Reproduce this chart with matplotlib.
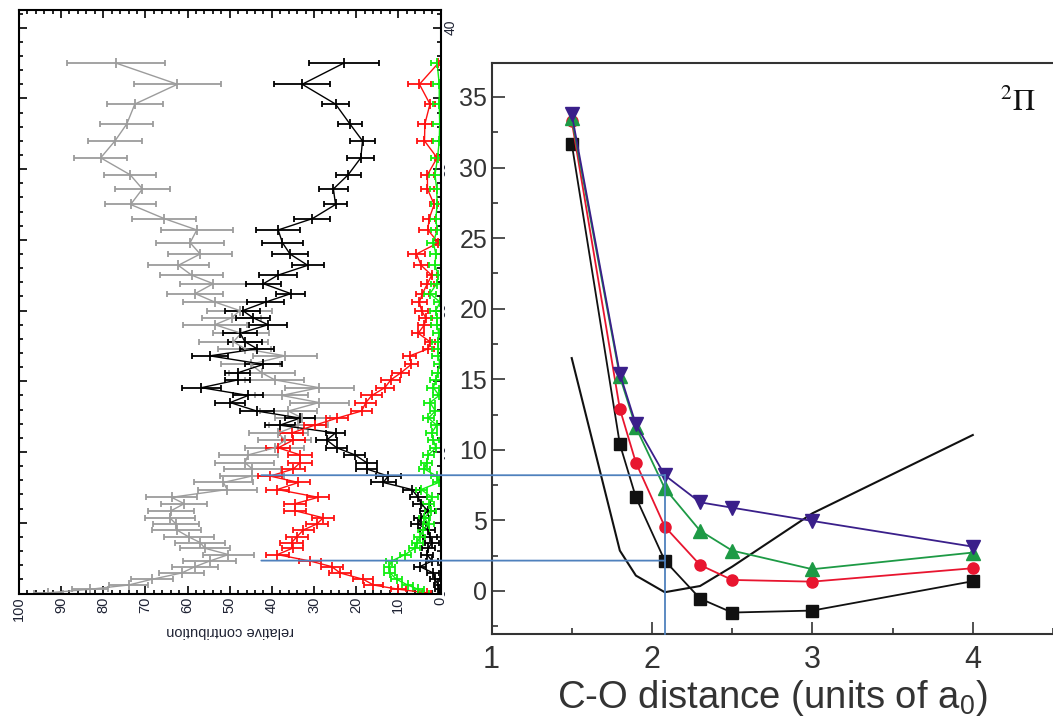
import matplotlib
matplotlib.use("Agg")
import matplotlib.pyplot as plt
from matplotlib.patches import Rectangle, ConnectionPatch
from matplotlib.ticker import MultipleLocator, FuncFormatter
from matplotlib.transforms import blended_transform_factory

plt.rcParams['font.family'] = ['Liberation Sans', 'DejaVu Sans']
plt.rcParams['mathtext.fontset'] = 'custom'
plt.rcParams['mathtext.rm'] = 'Liberation Sans'
plt.rcParams['mathtext.it'] = 'Liberation Sans:italic'

# ---- left panel: relative contributions vs. energy --------------------
energy = [37.5, 36.0, 34.6, 33.2, 32.0, 30.8, 29.6, 28.6, 27.5, 26.5,
          25.7, 24.8, 24.0, 23.2, 22.5, 21.9, 21.2, 20.6, 20.0, 19.5,
          19.0, 18.4, 17.8, 17.3, 16.8, 16.2, 15.6, 15.1, 14.55, 14.0,
          13.5, 12.9, 12.4, 11.9, 11.35, 10.85, 10.3, 9.8, 9.25, 8.8,
          8.3, 7.85, 7.35, 6.8, 6.35, 5.85, 5.35, 4.9, 4.5, 4.0,
          3.6, 3.2, 2.75, 2.3, 1.9, 1.45, 1.0, 0.6, 0.3, 0.05]

gray_val = [77.0, 62.4, 72.5, 74.4, 77.2, 80.6, 73.6, 70.7, 73.5, 65.5,
            57.8, 59.4, 57.0, 62.2, 59.0, 53.9, 58.2, 53.5, 47.6, 49.5,
            53.5, 47.3, 49.1, 46.4, 36.9, 45.0, 42.4, 39.3, 28.8, 37.7,
            28.8, 36.1, 32.8, 33.7, 38.5, 36.9, 39.3, 45.6, 46.4, 44.6,
            44.8, 51.5, 50.6, 63.8, 60.8, 63.9, 64.2, 62.7, 62.6, 59.7,
            57.0, 55.9, 50.3, 54.7, 58.2, 61.4, 68.5, 74.0, 83.1, 93.0]
gray_err = [11.7, 10.3, 6.6, 6.3, 6.3, 6.3, 6.2, 6.5, 6.0, 7.6,
            8.5, 8.1, 7.6, 7.2, 7.5, 7.8, 6.7, 7.6, 7.7, 7.0,
            7.6, 6.6, 8.3, 6.3, 7.5, 7.0, 7.8, 7.0, 8.2, 6.3,
            7.0, 6.7, 6.5, 7.0, 7.0, 6.3, 7.0, 7.0, 7.0, 6.7,
            7.6, 7.0, 7.0, 6.0, 5.5, 5.5, 5.9, 5.5, 5.8, 6.0,
            6.0, 6.0, 6.0, 6.3, 5.5, 5.3, 5.0, 4.7, 4.2, 3.5]

black_val = [22.9, 32.8, 24.9, 21.5, 18.5, 18.9, 21.9, 25.4, 24.9, 30.4,
             38.5, 37.5, 35.7, 31.5, 38.6, 42.0, 35.5, 41.5, 46.9, 44.5,
             40.9, 47.5, 46.4, 43.5, 54.7, 42.0, 48.1, 48.1, 56.7, 45.6,
             49.9, 43.6, 33.3, 38.1, 24.9, 27.0, 24.6, 20.3, 17.5, 17.5,
             12.4, 13.6, 6.8, 5.3, 4.6, 3.0, 4.6, 5.3, 3.0, 2.5,
             2.0, 2.9, 3.2, 2.0, 4.9, 1.7, 1.3, 0.5, 0.4, 0.2]
black_err = [8.3, 6.7, 3.3, 2.9, 3.0, 3.2, 3.0, 3.4, 2.8, 4.3,
             5.2, 4.8, 4.2, 3.8, 4.5, 4.2, 3.4, 4.4, 4.2, 4.0,
             4.5, 4.0, 4.0, 4.0, 4.2, 4.3, 3.0, 3.0, 4.6, 3.5,
             3.5, 4.0, 3.5, 3.5, 2.2, 2.5, 2.5, 2.5, 2.5, 2.5,
             3.0, 3.0, 2.0, 2.0, 2.0, 1.8, 1.8, 1.8, 1.8, 1.6,
             1.6, 1.6, 1.5, 1.5, 1.5, 1.4, 1.2, 1.0, 0.8, 0.5]

red_val = [0.5, 5.0, 2.5, 3.7, 3.8, 0.8, 3.1, 3.1, 1.5, 2.7,
           3.0, 0.5, 5.7, 4.6, 2.1, 3.1, 4.3, 5.0, 4.5, 3.5,
           3.8, 5.3, 2.5, 2.9, 7.3, 6.9, 9.4, 11.8, 13.2, 16.3,
           17.7, 18.7, 24.5, 29.8, 35.3, 34.9, 38.5, 33.3, 33.3, 34.9,
           40.4, 33.7, 38.7, 29.0, 34.5, 34.5, 27.8, 29.4, 32.5, 34.1,
           35.3, 35.1, 38.7, 31.0, 25.8, 23.8, 18.3, 15.9, 10.0, 3.3]
red_err = [0.4, 2.8, 1.2, 1.7, 1.7, 0.6, 1.5, 1.5, 1.0, 1.5,
           2.0, 0.5, 2.0, 1.7, 1.2, 1.5, 1.5, 1.8, 1.5, 1.5,
           1.5, 1.5, 1.2, 1.3, 1.5, 1.5, 2.0, 2.2, 2.2, 2.5,
           2.5, 2.5, 2.6, 2.6, 2.8, 2.8, 2.8, 2.8, 2.8, 2.8,
           2.8, 2.8, 2.8, 2.6, 2.6, 2.6, 2.6, 2.6, 2.6, 2.6,
           2.8, 2.6, 2.8, 2.6, 2.6, 2.6, 2.4, 2.2, 1.8, 1.0]

green_val = [0.8, 0.3, 0.3, 0.2, 0.3, 0.7, 1.3, 0.9, 0.8, 1.1,
             0.8, 1.7, 1.1, 1.3, 0.5, 0.9, 2.5, 0.1, 1.1, 0.8,
             0.9, 0.4, 0.6, 0.5, 0.5, 0.2, 0.7, 1.1, 1.7, 0.3,
             2.5, 1.2, 2.9, 0.9, 2.1, 1.7, 1.1, 2.9, 3.3, 3.8,
             0.9, 0.4, 4.6, 2.0, 2.8, 2.3, 3.8, 2.8, 4.1, 4.9,
             5.5, 6.1, 8.4, 11.6, 12.2, 12.0, 10.4, 7.8, 5.3, 4.1]
green_err = [1.5] * 10 + [1.4] * 20 + [1.3] * 20 + [1.3] * 10

# ---- right panel: potential curves vs. C-O distance -------------------
distance = [1.5, 1.8, 1.9, 2.08, 2.3, 2.5, 3.0, 4.0]
curve_square = [31.7, 10.4, 6.64, 2.15, -0.54, -1.53, -1.39, 0.69]
curve_circle = [33.3, 12.9, 9.09, 4.56, 1.84, 0.78, 0.66, 1.61]
curve_up = [33.5, 15.2, 11.6, 7.27, 4.27, 2.86, 1.54, 2.72]
curve_down = [33.8, 15.4, 11.8, 8.2, 6.28, 5.9, 4.96, 3.14]
curve_plain = [16.5, 2.86, 1.09, -0.09, 0.35, 1.72, 5.5, 11.05]

W, H = 1053, 726
fig = plt.figure(figsize=(W / 100, H / 100), dpi=100)
fig.patch.set_facecolor('white')

text_col = '#1e2233'

# left axes (drawn sideways: contribution runs right-to-left)
axL = fig.add_axes([18.9 / W, (H - 593.5) / H, (440.5 - 18.9) / W, (593.5 - 10) / H])
axL.set_zorder(0)
axL.set_xlim(100, 0)
axL.set_ylim(0, 41.25)

series = [(gray_val, gray_err, '#9c9c9c'),
          (black_val, black_err, '#000000'),
          (red_val, red_err, '#ff1010'),
          (green_val, green_err, '#10ee10')]
for val, err, col in series:
    axL.errorbar(val, energy, xerr=err, color=col, ecolor=col,
                 lw=1.0, elinewidth=1.3, capsize=2, capthick=1.2,
                 marker='|', ms=7, mew=1.3)

axL.xaxis.set_major_locator(MultipleLocator(10))
axL.xaxis.set_minor_locator(MultipleLocator(2))
axL.yaxis.set_major_locator(MultipleLocator(5))
axL.yaxis.set_minor_locator(MultipleLocator(1))
axL.yaxis.set_major_formatter(FuncFormatter(lambda v, p: f"{v:.0f}" if v % 10 == 0 else ""))
axL.tick_params(which='both', direction='in', top=True, bottom=True,
                left=True, right=True, labelleft=False, labelright=True,
                colors='black', labelcolor=text_col, width=1.2)
axL.tick_params(which='major', length=6)
axL.tick_params(which='minor', length=3)
axL.tick_params(axis='x', labelsize=10.5, labelrotation=90, pad=2)
axL.tick_params(axis='y', labelsize=10, labelrotation=90, pad=2)
for lab in axL.get_yticklabels():
    lab.set_verticalalignment('center')
axL.set_xlabel('relative contribution', fontsize=10.5, rotation=180,
               color=text_col, labelpad=2)
for sp in axL.spines.values():
    sp.set_linewidth(1.5)

# white backdrop behind the right panel and its tick labels
fig.add_artist(Rectangle((445 / W, 0), 1 - 445 / W, (H - 40) / H,
                         transform=fig.transFigure, facecolor='white',
                         edgecolor='none', zorder=1))

# right axes
axR = fig.add_axes([491.5 / W, (H - 634) / H, (W - 491.5) / W, (634 - 62.7) / H])
axR.set_zorder(2)
axR.set_xlim(1, 4.5)
axR.set_ylim(-3.05, 37.43)

axR.plot(distance, curve_plain, color='#111111', lw=1.5)
axR.plot(distance, curve_square, color='#111111', lw=1.3, marker='s', ms=8)
axR.plot(distance, curve_circle, color='#e8152f', lw=1.3, marker='o', ms=8)
axR.plot(distance, curve_up, color='#1d9a45', lw=1.3, marker='^', ms=9.5)
axR.plot(distance, curve_down, color='#3a1f8a', lw=1.3, marker='v', ms=9.5)

axR.xaxis.set_major_locator(MultipleLocator(1))
axR.xaxis.set_minor_locator(MultipleLocator(0.5))
axR.yaxis.set_major_locator(MultipleLocator(5))
axR.yaxis.set_minor_locator(MultipleLocator(2.5))
axR.tick_params(which='both', direction='in', colors='#333333',
                labelcolor='#333333', width=1.2)
axR.tick_params(which='major', length=9)
axR.tick_params(which='minor', length=4)
axR.tick_params(axis='y', labelsize=18, pad=3)
axR.tick_params(axis='x', labelsize=22, pad=8)
axR.spines['right'].set_visible(False)
for sp in ('left', 'bottom', 'top'):
    axR.spines[sp].set_linewidth(1.5)
    axR.spines[sp].set_color('#333333')
axR.set_xlabel('C-O distance (units of a$_{0}$)', fontsize=27.5,
               color='#333333', labelpad=2)
axR.text(4.28, 34.6, r'$^{2}\Pi$', fontsize=22, math_fontfamily='stix',
         ha='center', va='center', color='#111111')

# guide lines linking the two panels
blue = '#4f81bd'
idx = 3
link = blended_transform_factory(axL.transData, axR.transData)
for e in (curve_down[idx], curve_square[idx]):
    con = ConnectionPatch(xyA=(42.5, e), coordsA=link,
                          xyB=(distance[idx], e), coordsB=axR.transData,
                          color=blue, lw=1.3, zorder=5)
    fig.add_artist(con)
axR.plot([distance[idx], distance[idx]], [curve_down[idx], -3.05],
         color=blue, lw=1.3, zorder=5, clip_on=False)

fig.savefig('out.png', dpi=100, facecolor='white')
